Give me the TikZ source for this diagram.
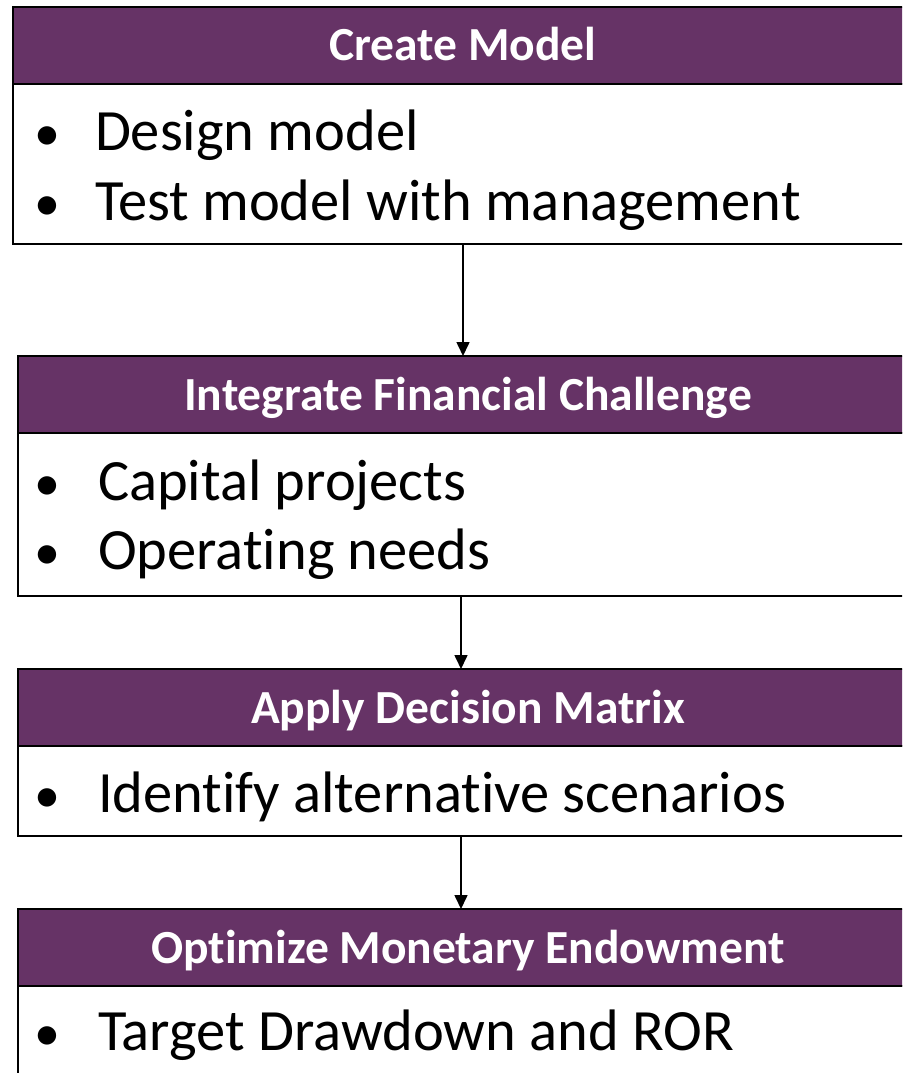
\documentclass[tikz,border=0pt]{standalone}
\usepackage{fontspec}
\setmainfont{Carlito}[Ligatures=NoCommon]
\usetikzlibrary{arrows.meta}
\definecolor{headpurple}{RGB}{102,51,102}
\begin{document}
\begin{tikzpicture}[x=1pt,y=-1pt,
  every node/.style={inner sep=0pt,outer sep=0pt},
  headbox/.style={draw=black,line width=2pt,fill=headpurple,minimum height=77pt},
  headtext/.style={anchor=base,font=\fontsize{47.5}{50}\selectfont\bfseries,text=white},
  bodybox/.style={draw=black,line width=2pt,fill=white},
  bodytext/.style={anchor=base west,font=\fontsize{58.5}{64}\selectfont},
  bullet/.style={anchor=base,font=\fontsize{52}{56}\selectfont},
  flow/.style={-{Triangle[length=14pt,width=13pt]},line width=1.6pt}]
\useasboundingbox (0,0) rectangle (902,1073);
\clip (0,0) rectangle (902,1073);

% Step 1
\node[bodybox,minimum width=900pt,minimum height=160pt] (b1) at (463,164) {};
\node[headbox,minimum width=900pt] (h1) at (463,45.5) {};
\node[headtext] (t1) at (463,60) {Create Model};
\node[bullet] (d1a) at (47,150) {\textbullet};
\node[bodytext] (l1a) at (95,150) {Design model};
\node[bullet] (d1b) at (47,220) {\textbullet};
\node[bodytext] (l1b) at (95,220) {Test model with management};

% Step 2
\node[bodybox,minimum width=890pt,minimum height=163pt] (b2) at (463,514.5) {};
\node[headbox,minimum width=890pt] (h2) at (463,394.5) {};
\node[headtext] (t2) at (468,410) {Integrate Financial Challenge};
\node[bullet] (d2a) at (47,500) {\textbullet};
\node[bodytext] (l2a) at (98,500) {Capital projects};
\node[bullet] (d2b) at (47,569) {\textbullet};
\node[bodytext] (l2b) at (98,569) {Operating needs};

% Step 3
\node[bodybox,minimum width=890pt,minimum height=90pt] (b3) at (463,791) {};
\node[headbox,minimum width=890pt] (h3) at (463,707.5) {};
\node[headtext] (t3) at (468,723) {Apply Decision Matrix};
\node[bullet] (d3a) at (47,812) {\textbullet};
\node[bodytext] (l3a) at (98,812) {Identify alternative scenarios};

% Step 4
\node[bodybox,minimum width=890pt,minimum height=114pt] (b4) at (463,1043) {};
\node[headbox,minimum width=890pt] (h4) at (463,947.5) {};
\node[headtext] (t4) at (468,963) {Optimize Monetary Endowment};
\node[bullet] (d4a) at (47,1050) {\textbullet};
\node[bodytext] (l4a) at (98,1050) {Target Drawdown and ROR};

% Connectors
\draw[flow] (b1.south) -- (h2.north);
\draw[flow] ([xshift=-2pt]b2.south) -- ([xshift=-2pt]h3.north);
\draw[flow] ([xshift=-2pt]b3.south) -- ([xshift=-2pt]h4.north);
\end{tikzpicture}
\end{document}
